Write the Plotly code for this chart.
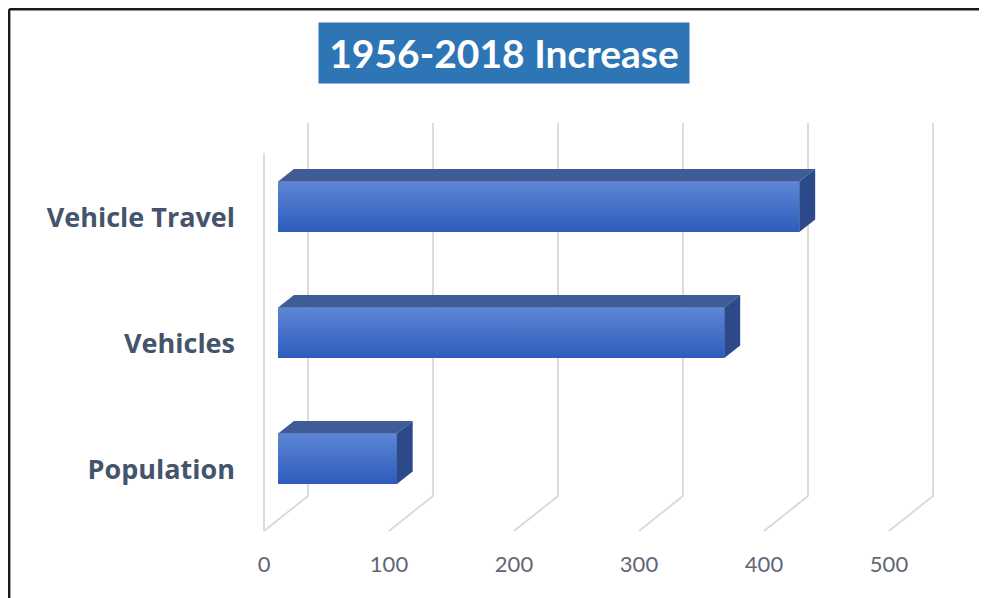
import plotly.graph_objects as go

# ---------------- data ----------------
categories = ["Population", "Vehicles", "Vehicle Travel"]
increase_pct = [95, 357, 417]
x_ticks = [0, 100, 200, 300, 400, 500]
title_text = "1956-2018 Increase"

# ---------------- layout geometry (page pixels; page body has an 8px margin) ----------------
OFF = 8
W, H = 987 - OFF, 598 - OFF
ML, MR, MT, MB = 236, 40, 92, 50
PX_PER_UNIT_X = 1.25          # pixels per % on the front plane
X0_PX = 264 - OFF             # pixel of value 0 on the front plane
PX_PER_CAT = 126              # pixels per category step
Y0_PX = 470 - OFF             # pixel of first category centre (front plane)


def px_to_x(px):
    return (px - X0_PX) / PX_PER_UNIT_X


def py_to_y(py):
    return (Y0_PX - py) / PX_PER_CAT


x_range = [px_to_x(ML), px_to_x(W - MR)]
y_range = [py_to_y(H - MB), py_to_y(MT)]

# depth offsets (full depth front -> back)
DEPTH_X = 35.2      # value units
DEPTH_Y = 0.278     # category units
FLOOR_Y = py_to_y(531 - OFF)
TOP_FRONT_Y = py_to_y(153 - OFF)
TOP_BACK_Y = py_to_y(123 - OFF)

fig = go.Figure()

# ---------------- gridlines (3-D wall) ----------------
grid_color = "#D9D9D9"
fig.add_trace(go.Scatter(x=[0, 0], y=[FLOOR_Y, TOP_FRONT_Y], mode="lines",
                         line=dict(color=grid_color, width=1.8),
                         hoverinfo="skip", showlegend=False))
for v in x_ticks:
    fig.add_trace(go.Scatter(
        x=[v + DEPTH_X, v + DEPTH_X, v],
        y=[TOP_BACK_Y, FLOOR_Y + DEPTH_Y, FLOOR_Y],
        mode="lines", line=dict(color=grid_color, width=1.8),
        hoverinfo="skip", showlegend=False))

# ---------------- 3-D bars ----------------
d0, d1 = 0.32, 0.68
bar_h = 0.40
ox0, ox1 = DEPTH_X * d0, DEPTH_X * d1
oy0, oy1 = DEPTH_Y * d0, DEPTH_Y * d1

top_color = "#405C97"
side_color = "#2C4A8A"

for k, (cat, v) in enumerate(zip(categories, increase_pct)):
    yc = k + oy0
    fig.add_trace(go.Bar(
        y=[yc], x=[v], base=[ox0], orientation="h", width=bar_h,
        marker=dict(color="#4472C4", line=dict(width=0)),
        name=cat, showlegend=False, hovertemplate=f"{cat}: {v}%<extra></extra>"))
    fig.add_trace(go.Scatter(
        x=[ox0, ox0 + v, ox0 + v, ox0, ox0],
        y=[yc - bar_h / 2, yc - bar_h / 2, yc + bar_h / 2, yc + bar_h / 2, yc - bar_h / 2],
        mode="lines", line=dict(width=0), fill="toself",
        fillgradient=dict(type="vertical",
                          colorscale=[[0, "#2D5CBC"], [1, "#5D86D4"]]),
        hoverinfo="skip", showlegend=False))
    yt0, yt1 = k + bar_h / 2 + oy0, k + bar_h / 2 + oy1
    fig.add_trace(go.Scatter(
        x=[ox0, ox0 + v, ox1 + v, ox1, ox0],
        y=[yt0, yt0, yt1, yt1, yt0],
        mode="lines", line=dict(width=0), fill="toself", fillcolor=top_color,
        hoverinfo="skip", showlegend=False))
    yb0, yb1 = k - bar_h / 2 + oy0, k - bar_h / 2 + oy1
    fig.add_trace(go.Scatter(
        x=[ox0 + v, ox0 + v, ox1 + v, ox1 + v, ox0 + v],
        y=[yb0, yt0, yt1, yb1, yb0],
        mode="lines", line=dict(width=0), fill="toself", fillcolor=side_color,
        hoverinfo="skip", showlegend=False))

# ---------------- title box ----------------
def paper_x(px):
    return (px - OFF - ML) / (W - ML - MR)


def paper_y(py):
    return (H - MB - (py - OFF)) / (H - MT - MB)


fig.add_annotation(
    text=f"<b>{title_text}</b>", xref="paper", yref="paper",
    x=paper_x(504), y=paper_y(53), xanchor="center", yanchor="middle",
    showarrow=False, width=370, height=60, bgcolor="#2E75B6", borderpad=0,
    font=dict(family="Lato", size=39, color="white"))

# outer frame (top and left edges), kept inside the figure area
fig.add_shape(type="line", xref="paper", yref="paper",
              x0=paper_x(9.2), x1=paper_x(990), y0=paper_y(9.2), y1=paper_y(9.2),
              line=dict(color="#1A1A1A", width=2.4))
fig.add_shape(type="line", xref="paper", yref="paper",
              x0=paper_x(9.2), x1=paper_x(9.2), y0=paper_y(9.2), y1=paper_y(600),
              line=dict(color="#1A1A1A", width=2.4))

fig.update_layout(
    width=W, height=H,
    margin=dict(l=ML, r=MR, t=MT, b=MB, pad=0),
    paper_bgcolor="white", plot_bgcolor="white",
    barmode="overlay",
    xaxis=dict(range=x_range, tickvals=x_ticks, ticktext=[str(t) for t in x_ticks],
               showgrid=False, zeroline=False, showline=False, ticks="",
               ticklabelstandoff=1,
               tickfont=dict(family="Lato", size=22, color="#5F6675")),
    yaxis=dict(range=y_range, tickvals=list(range(len(categories))), ticktext=categories,
               showgrid=False, zeroline=False, showline=False, ticks="",
               ticklabelstandoff=8,
               tickfont=dict(family="Open Sans", size=27, color="#44546A", weight="bold")),
)

fig.write_html("out.html")
